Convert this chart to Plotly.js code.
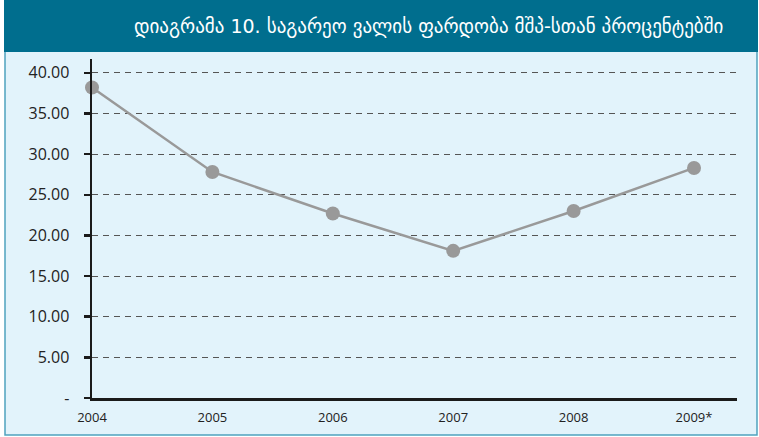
<!DOCTYPE html>
<html>
<head>
<meta charset="utf-8">
<script src="https://cdn.plot.ly/plotly-3.0.1.min.js"></script>
<style>html,body{margin:0;padding:0;background:#fff;}#chart{width:759px;height:437px;}</style>
</head>
<body>
<div id="chart"></div>
<script>
const years = ['2004', '2005', '2006', '2007', '2008', '2009*'];
const ratio = [38.2, 27.8, 22.7, 18.1, 23.0, 28.3];
const yTickVals = [0, 5, 10, 15, 20, 25, 30, 35, 40];
const yTickText = ['-', '5.00', '10.00', '15.00', '20.00', '25.00', '30.00', '35.00', '40.00'];
const titleText = 'დიაგრამა 10. საგარეო ვალის ფარდობა მშპ-სთან პროცენტებში';

// plot area in pixels
const L = 92, R = 737, T = 59, B = 398, W = 759, H = 437;
const px = x => (x - L) / (R - L);
const py = y => (B - y) / (B - T);

const trace = {
  x: years, y: ratio, type: 'scatter', mode: 'lines+markers',
  line: {color: '#999999', width: 2.5},
  marker: {color: '#999999', size: 14},
  cliponaxis: false,
  hoverinfo: 'x+y'
};

const layout = {
  width: W, height: H,
  margin: {l: L, r: W - R, t: T, b: H - B, pad: 0},
  paper_bgcolor: '#ffffff',
  plot_bgcolor: 'rgba(0,0,0,0)',
  showlegend: false,
  font: {family: 'Open Sans, sans-serif', color: '#222222'},
  xaxis: {
    type: 'category', range: [0, 5.357],
    showline: true, linecolor: '#1a1a1a', linewidth: 2.5,
    showgrid: false, zeroline: false, ticks: '',
    tickfont: {size: 13, color: '#222'}, ticklabelstandoff: 6
  },
  yaxis: {
    range: [0, 41.7], tickvals: yTickVals, ticktext: yTickText,
    showline: true, linecolor: '#1a1a1a', linewidth: 2.5,
    ticks: 'outside', ticklen: 6, tickwidth: 2.5, tickcolor: '#1a1a1a',
    showgrid: true, gridcolor: '#555555', gridwidth: 1, griddash: '6px,5px',
    zeroline: false,
    tickfont: {size: 16, color: '#222'}, ticklabelstandoff: 11
  },
  shapes: [
    {type: 'rect', xref: 'paper', yref: 'paper', layer: 'below',
     x0: px(5), x1: px(757), y0: py(435), y1: py(0),
     fillcolor: '#e2f3fb', line: {color: '#4fa3bf', width: 1.5}},
    {type: 'rect', xref: 'paper', yref: 'paper', layer: 'below',
     x0: px(4), x1: px(758), y0: py(52), y1: py(0),
     fillcolor: '#006e8e', line: {width: 0}}
  ],
  annotations: [
    {xref: 'paper', yref: 'paper', x: px(428), y: py(26), xanchor: 'center', yanchor: 'middle',
     text: titleText, showarrow: false,
     font: {family: 'DejaVu Sans, sans-serif', size: 19, color: '#ffffff'}}
  ]
};

Plotly.newPlot('chart', [trace], layout, {displayModeBar: false, staticPlot: true});
</script>
</body>
</html>
